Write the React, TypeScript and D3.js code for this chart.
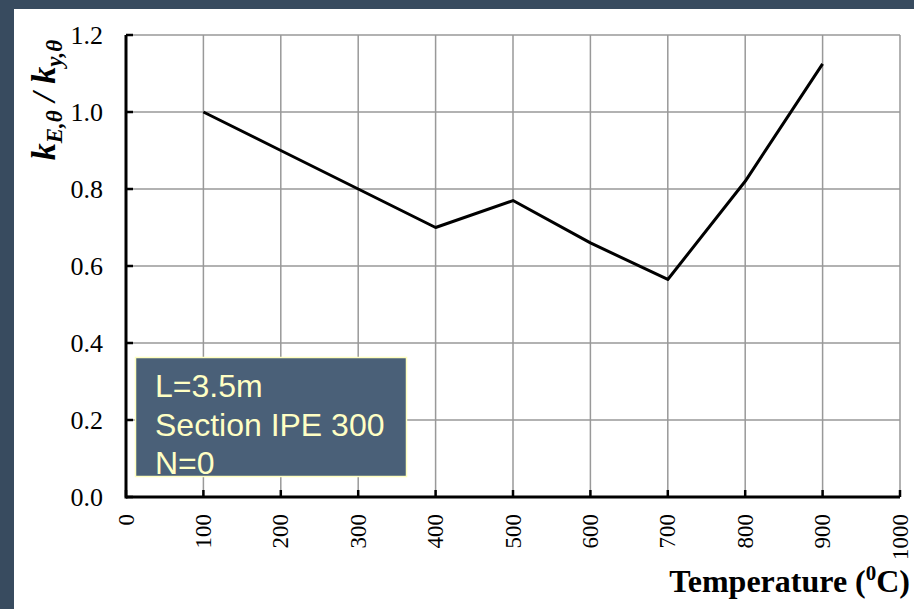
import React from 'react';
import * as d3 from 'd3';

const width = 914;
const height = 609;
const margin = { top: 35, right: 14, bottom: 112, left: 126 };

const temps: number[] = [100, 200, 300, 400, 500, 600, 700, 800, 900];
const ratios: number[] = [1.0, 0.9, 0.8, 0.7, 0.77, 0.66, 0.565, 0.82, 1.125];
const xTicks: number[] = [0, 100, 200, 300, 400, 500, 600, 700, 800, 900, 1000];
const yTicks: number[] = [0, 0.2, 0.4, 0.6, 0.8, 1.0, 1.2];
const noteLines: string[] = ['L=3.5m', 'Section IPE 300', 'N=0'];

const x = d3.scaleLinear().domain([0, 1000]).range([margin.left, width - margin.right]);
const y = d3.scaleLinear().domain([0, 1.2]).range([height - margin.bottom, margin.top]);

const line = d3.line<number>()
    .x((_, i) => x(temps[i]))
    .y(d => y(d));

const serif = 'Liberation Serif, Times New Roman, serif';

const App = () => {
    const x0 = x(0);
    const x1 = x(1000);
    const y0 = y(0);
    const y1 = y(1.2);
    return (
        <svg width={width} height={height} style={{ display: 'block', position: 'absolute', left: 0, top: 0 }}>
            <rect x={0} y={0} width={width} height={height} fill="#384b5f" />
            <rect x={14} y={9} width={width - 14} height={height - 9} fill="#ffffff" />
            {/* grid */}
            {xTicks.slice(1).map(t => (
                <line key={'gx' + t} x1={x(t)} x2={x(t)} y1={y0} y2={y1} stroke="#999" strokeWidth={1.5} />
            ))}
            {yTicks.slice(1).map(t => (
                <line key={'gy' + t} x1={x0} x2={x1} y1={y(t)} y2={y(t)} stroke="#999" strokeWidth={1.5} />
            ))}
            {/* axes */}
            <line x1={x0} x2={x0} y1={y1} y2={y0 + 1.5} stroke="#000" strokeWidth={3} />
            <line x1={x0} x2={x1} y1={y0} y2={y0} stroke="#000" strokeWidth={3} />
            {yTicks.map(t => (
                <line key={'ty' + t} x1={x0} x2={x0 + 7} y1={y(t)} y2={y(t)} stroke="#000" strokeWidth={2.5} />
            ))}
            {xTicks.map(t => (
                <line key={'tx' + t} x1={x(t)} x2={x(t)} y1={y0} y2={y0 - 7} stroke="#000" strokeWidth={2.5} />
            ))}
            {yTicks.map(t => (
                <text key={'ly' + t} x={103} y={y(t)} dy="0.33em" textAnchor="end"
                    fontFamily={serif} fontSize={26} fill="#000">
                    {d3.format('.1f')(t)}
                </text>
            ))}
            {xTicks.map(t => (
                <text key={'lx' + t} transform={`translate(${x(t)},${y0 + 17}) rotate(-90)`} dy="0.33em"
                    textAnchor="end" fontFamily={serif} fontSize={23} fill="#000">
                    {t}
                </text>
            ))}
            {/* data */}
            <path d={line(ratios) || ''} fill="none" stroke="#000" strokeWidth={3} strokeLinejoin="round" />
            {/* note box */}
            <rect x={135.5} y={357.5} width={271} height={119} fill="#4a6078" stroke="#ffffc0" strokeWidth={1.5} />
            {noteLines.map((s, i) => (
                <text key={s} x={155} y={397 + i * 38.5} fontFamily="Liberation Sans, Arial, sans-serif"
                    fontSize={32} fill="#ffffc4">
                    {s}
                </text>
            ))}
            {/* axis titles */}
            <text transform="translate(55,100) rotate(-90)" textAnchor="middle"
                fontFamily={serif} fontSize={34} fontWeight="bold" fontStyle="italic" fill="#000">
                <tspan>k</tspan>
                <tspan fontSize={23} dy={7}>E,θ</tspan>
                <tspan dy={-7}> / k</tspan>
                <tspan fontSize={23} dy={7}>y,θ</tspan>
            </text>
            <text x={910} y={592} textAnchor="end" fontFamily={serif}
                fontSize={32} fontWeight="bold" fill="#000">
                Temperature (<tspan fontSize={21} dy={-12}>0</tspan><tspan dy={12}>C)</tspan>
            </text>
        </svg>
    );
};

export default App;
